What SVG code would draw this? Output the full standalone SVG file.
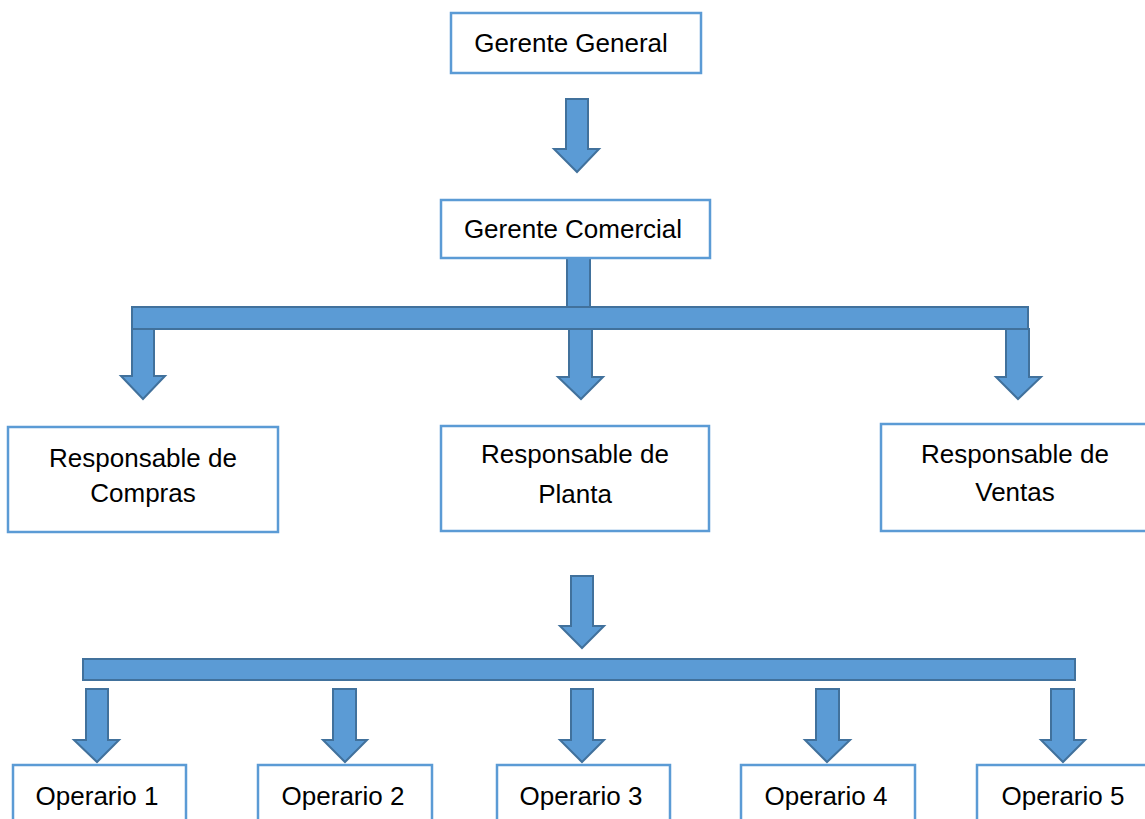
<svg xmlns="http://www.w3.org/2000/svg" width="1145" height="819" viewBox="0 0 1145 819">
<style>
.box{fill:#ffffff;stroke:#5B9BD5;stroke-width:2.5}
.conn{fill:#5B9BD5;stroke:#41719C;stroke-width:2;stroke-linejoin:miter}
.t{font-family:"Liberation Sans",Arial,sans-serif;font-size:26px;fill:#000000;text-anchor:middle}
</style>
<rect width="1145" height="819" fill="#ffffff"/>
<g id="connectors">
<polygon class="conn" points="566,99 588,99 588,149 599,149 577,172 554,149 566,149"/>
<rect class="conn" x="567" y="258" width="23" height="50"/>
<rect class="conn" x="132" y="307" width="896" height="22"/>
<polygon class="conn" points="132,329 154,329 154,376 165,376 143,399 121,376 132,376"/>
<polygon class="conn" points="569,329 592,329 592,377 603,377 581,399 558,377 569,377"/>
<polygon class="conn" points="1006,329 1029,329 1029,377 1041,377 1018,399 996,377 1006,377"/>
<polygon class="conn" points="571,576 593,576 593,626 604,626 582,648 560,626 571,626"/>
<rect class="conn" x="83" y="659" width="992" height="21"/>
<polygon class="conn" points="86,689 108,689 108,740 119,740 97,762 74,740 86,740"/>
<polygon class="conn" points="333,689 356,689 356,740 367,740 345,762 323,740 333,740"/>
<polygon class="conn" points="571,689 593,689 593,740 604,740 582,762 560,740 571,740"/>
<polygon class="conn" points="816,689 839,689 839,740 850,740 827,762 805,740 816,740"/>
<polygon class="conn" points="1051,689 1074,689 1074,740 1085,740 1063,762 1041,740 1051,740"/>
</g>
<g id="gerente-general">
<rect class="box" x="451" y="13" width="250" height="60"/>
<text class="t" x="571" y="52">Gerente General</text>
</g>
<g id="gerente-comercial">
<rect class="box" x="441" y="200" width="269" height="58"/>
<text class="t" x="573" y="238">Gerente Comercial</text>
</g>
<g id="resp-compras">
<rect class="box" x="8" y="427" width="270" height="105"/>
<text class="t" x="143" y="467">Responsable de</text>
<text class="t" x="143" y="502">Compras</text>
</g>
<g id="resp-planta">
<rect class="box" x="441" y="426" width="268" height="105"/>
<text class="t" x="575" y="463">Responsable de</text>
<text class="t" x="575" y="503">Planta</text>
</g>
<g id="resp-ventas">
<rect class="box" x="881" y="424" width="280" height="107"/>
<text class="t" x="1015" y="463">Responsable de</text>
<text class="t" x="1015" y="501">Ventas</text>
</g>
<g id="operario-1">
<rect class="box" x="13" y="765" width="173" height="70"/>
<text class="t" x="97" y="805">Operario 1</text>
</g>
<g id="operario-2">
<rect class="box" x="258" y="765" width="174" height="70"/>
<text class="t" x="343" y="805">Operario 2</text>
</g>
<g id="operario-3">
<rect class="box" x="497" y="765" width="173" height="70"/>
<text class="t" x="581" y="805">Operario 3</text>
</g>
<g id="operario-4">
<rect class="box" x="741" y="765" width="174" height="70"/>
<text class="t" x="826" y="805">Operario 4</text>
</g>
<g id="operario-5">
<rect class="box" x="977" y="765" width="190" height="70"/>
<text class="t" x="1063" y="805">Operario 5</text>
</g>
</svg>
